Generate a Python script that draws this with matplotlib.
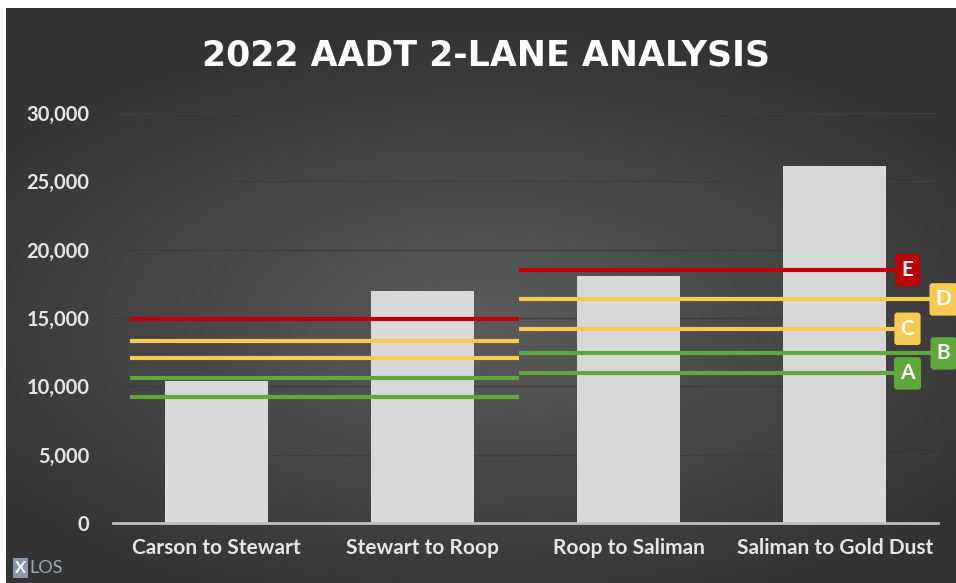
import numpy as np
import matplotlib
matplotlib.use('Agg')
import matplotlib.pyplot as plt

plt.rcParams['font.family'] = ['Lato', 'DejaVu Sans']

# data
segments = ['Carson to Stewart', 'Stewart to Roop', 'Roop to Saliman', 'Saliman to Gold Dust']
aadt = [10400, 17000, 18100, 26100]
los_letters = ['A', 'B', 'C', 'D', 'E']
los_west = [9240, 10600, 12050, 13340, 14920]
los_east = [10950, 12410, 14210, 16360, 18510]
y_ticks = [0, 5000, 10000, 15000, 20000, 25000, 30000]

los_colors = {'A': '#5fa83a', 'B': '#5fa83a', 'C': '#f7cb52', 'D': '#f7cb52', 'E': '#c00000'}

fig = plt.figure(figsize=(9.56, 5.83), dpi=100, facecolor='white')

# dark background with soft radial gradient
bg = fig.add_axes([6 / 956, 0, 1 - 6 / 956, 1 - 8 / 583])
gx, gy = np.meshgrid(np.linspace(-1, 1, 400), np.linspace(-1, 1, 250))
r = np.sqrt((gx * 0.9) ** 2 + ((gy - 0.1) * 1.1) ** 2)
shade = np.clip(0.36 - 0.14 * r, 0.2, 0.36)
bg.imshow(np.dstack([shade] * 3), aspect='auto', extent=[0, 1, 0, 1])
bg.set_axis_off()

ax = fig.add_axes([113 / 956, 1 - 523 / 583, 825 / 956, 410 / 583])
ax.patch.set_alpha(0)
x = np.arange(len(segments))
ax.bar(x, aadt, width=0.5, color='#d9d9d9', zorder=2)

# LOS thresholds: first two segments, then last two
for val, let in zip(los_west, los_letters):
    ax.plot([-0.42, 1.47], [val, val], color=los_colors[let], lw=3, zorder=3,
            solid_capstyle='butt')
for val, let in zip(los_east, los_letters):
    xe = 3.527 if let in ('B', 'D') else 3.352
    ax.plot([1.47, xe], [val, val], color=los_colors[let], lw=3, zorder=3,
            solid_capstyle='butt', clip_on=False)
    ax.text(xe, val, let, ha='center', va='center', fontsize=15, fontweight='bold',
            color='white', zorder=4, clip_on=False,
            bbox=dict(boxstyle='round,pad=0.3,rounding_size=0.15',
                      fc=los_colors[let], ec='none'))

ax.set_xlim(-0.5, 3.5)
ax.set_ylim(0, 30000)
ax.set_yticks(y_ticks)
ax.set_yticklabels(['{:,}'.format(v) for v in y_ticks])
ax.set_xticks(x)
ax.set_xticklabels(segments)
ax.yaxis.grid(True, color='#3e3e3e', lw=1.0, zorder=0)
ax.set_axisbelow(True)
for s in ['top', 'right', 'left']:
    ax.spines[s].set_visible(False)
ax.spines['bottom'].set_color('#bfbfbf')
ax.spines['bottom'].set_linewidth(2)
ax.tick_params(axis='both', length=0, colors='#e6e6e6')
ax.tick_params(axis='y', pad=17, labelsize=14.5)
ax.tick_params(axis='x', pad=11, labelsize=15)
for lbl in ax.get_xticklabels() + ax.get_yticklabels():
    lbl.set_fontweight('bold')

fig.text(486 / 956, 1 - 56 / 583, '2022 AADT 2-LANE ANALYSIS', ha='center', va='center',
         fontsize=25, fontweight='bold', color='white', family=['DejaVu Sans'])

# logo
fig.text(15 / 956, 1 - 568 / 583, 'X', ha='left', va='center', fontsize=12,
         fontweight='bold', color='white',
         bbox=dict(boxstyle='square,pad=0.12', fc='#8796a8', ec='none'))
fig.text(29 / 956, 1 - 568 / 583, 'LOS', ha='left', va='center', fontsize=13,
         color='#9aa8b8')

fig.savefig('out.png', dpi=100, facecolor=fig.get_facecolor())
